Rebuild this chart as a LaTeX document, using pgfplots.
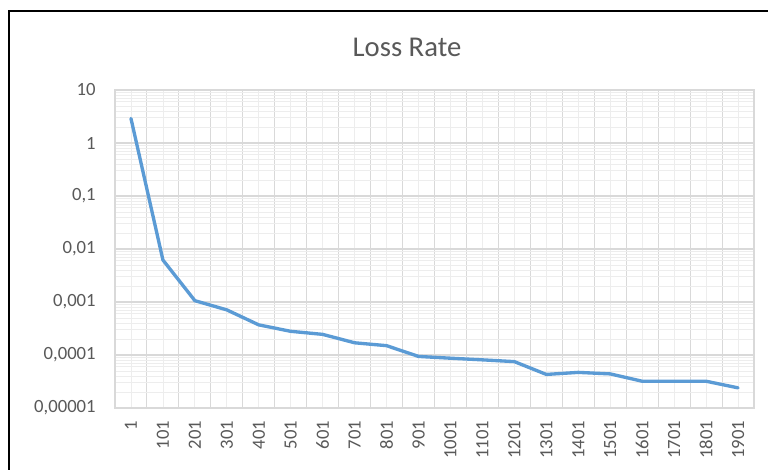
\documentclass[border=0pt]{standalone}
\usepackage{fontspec}
\setmainfont{Carlito}
\usepackage{pgfplots}
\pgfplotsset{compat=1.18}
\definecolor{exblue}{HTML}{5B9BD5}
\definecolor{txt}{HTML}{595959}
\definecolor{gmaj}{HTML}{D9D9D9}
\definecolor{gmin}{HTML}{EDEDED}
\begin{document}
\begin{tikzpicture}
\useasboundingbox (0,0) rectangle (576pt,-352.5pt);
\fill[white] (0,0) rectangle (576pt,-352.5pt);
\draw[line width=1.6pt] (7pt,-400pt) -- (7pt,-8.4pt) -- (600pt,-8.4pt);
\node[font=\fontsize{21.5}{24}\selectfont, text=txt] at (305.25pt,-35.25pt) {Loss Rate};
\begin{axis}[
 at={(86.25pt,-306pt)}, anchor=south west,
 scale only axis, width=479.25pt, height=238.5pt,
 ymode=log, ymin=1e-5, ymax=10,
 xmin=-0.5, xmax=19.5,
 axis line style={draw=gmaj, line width=0.8pt},
 major tick length=0pt, minor tick length=0pt,
 xtick={-0.5,0.5,...,19.5}, xticklabels={},
 minor xtick={0,1,...,19},
 ytick={1e-5,1e-4,1e-3,1e-2,1e-1,1,10},
 yticklabels={{0,00001},{0,0001},{0,001},{0,01},{0,1},1,10},
 /pgf/number format/assume math mode=true,
 grid=both,
 major grid style={draw=gmaj, line width=0.8pt},
 minor grid style={draw=gmin, line width=0.6pt},
 extra x ticks={0,1,...,19},
 extra x tick labels={1,101,201,301,401,501,601,701,801,901,1001,1101,1201,1301,1401,1501,1601,1701,1801,1901},
 extra x tick style={grid=none, major tick length=0pt},
 ticklabel style={font=\fontsize{14}{16}\selectfont, text=txt},
 xticklabel style={rotate=90, anchor=east, xshift=-6pt},
 yticklabel style={anchor=east, xshift=-11pt},
]
\addplot[exblue, line width=2.5pt, line join=round, line cap=round] coordinates {
(0,2.9) (1,0.0062) (2,0.00106) (3,0.00071) (4,0.00037) (5,0.00028) (6,0.000245) (7,0.00017) (8,0.00015) (9,0.000094) (10,0.000087) (11,0.000081) (12,0.000075) (13,0.000043) (14,0.000047) (15,0.000044) (16,0.000032) (17,0.000032) (18,0.000032) (19,0.000024)
};
\end{axis}
\end{tikzpicture}
\end{document}
